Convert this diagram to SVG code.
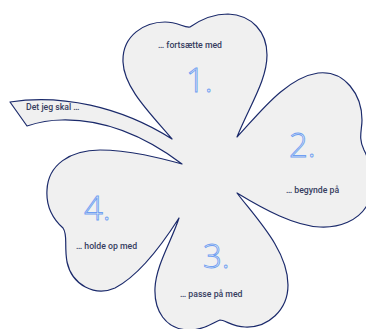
<svg xmlns="http://www.w3.org/2000/svg" width="366" height="329" viewBox="0 0 366 329">
<style>
.shape{fill:#f0f0f0;stroke:#1b2a6b;stroke-width:1.2;stroke-linejoin:round}
.lbl{font-family:Roboto,"Liberation Sans",sans-serif;font-weight:500;font-size:8.7px;fill:#363d60}
.num{font-family:"Open Sans","Liberation Sans",sans-serif;font-weight:300;font-size:33px;fill:#f0f0f0;stroke:#6f9ff2;stroke-width:0.9}
</style>
<rect width="366" height="329" fill="#ffffff"/>
<g id="clover">
<path class="shape" d="M10,102 C60,94 120,106 172,139
C150,113 124,88 123,62 C122,35 145,22 165,22 C178,22 184,28 190,27
C200,20 212,14 228,14 C252,15 267,32 267,55 C267,80 250,105 237,137
C258,115 285,78 318,73 C345,70 362,95 362,120 C362,130 358,138 364,150
C372,165 376,195 366,207 C358,220 340,228 320,227 C295,226 265,210 237,193
C255,217 288,250 288,285 C288,310 268,328 245,327 C233,327 225,320 220,320
C214,322 205,330 190,330 C165,330 154,310 155,288 C156,265 172,240 179,218
C165,240 140,275 115,288 C95,297 72,285 67,262 C64,245 68,235 63,228
C52,218 46,205 47,190 C48,165 70,150 100,150 C130,150 160,158 182,164
C150,140 110,119 62,120 C45,120 33,124 27,126 Z"/>
</g>
<g id="stem"><text class="lbl" x="26" y="110">Det jeg skal …</text></g>
<g id="leaf1">
<text class="lbl" x="158" y="48">… fortsætte med</text>
<text class="num" x="186" y="92">1.</text>
</g>
<g id="leaf2">
<text class="num" x="289" y="157">2.</text>
<text class="lbl" x="286" y="193">… begynde på</text>
</g>
<g id="leaf3">
<text class="num" x="203" y="268">3.</text>
<text class="lbl" x="180" y="297">… passe på med</text>
</g>
<g id="leaf4">
<text class="num" x="84" y="220">4.</text>
<text class="lbl" x="76" y="249">… holde op med</text>
</g>
</svg>
